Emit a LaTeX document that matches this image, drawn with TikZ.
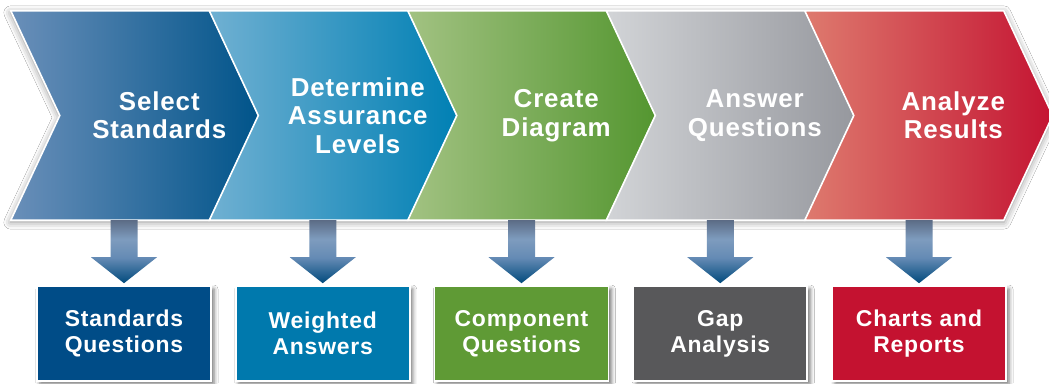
\documentclass[tikz,border=0pt]{standalone}
\usepackage{fontspec}
\setmainfont{Liberation Sans}[LetterSpace=3.5]
\usetikzlibrary{calc,backgrounds,shadows.blur}

% chevron colours (left / right end of the gradient)
\definecolor{selL}{RGB}{106,143,185}
\definecolor{selR}{RGB}{0,84,138}
\definecolor{detL}{RGB}{112,176,210}
\definecolor{detR}{RGB}{0,128,180}
\definecolor{creL}{RGB}{162,194,130}
\definecolor{creR}{RGB}{84,150,48}
\definecolor{ansL}{RGB}{210,212,215}
\definecolor{ansR}{RGB}{150,152,158}
\definecolor{anaL}{RGB}{222,122,110}
\definecolor{anaR}{RGB}{196,20,50}
% result boxes
\definecolor{stdQ}{RGB}{0,76,135}
\definecolor{wgtA}{RGB}{0,121,173}
\definecolor{cmpQ}{RGB}{95,154,53}
\definecolor{gapA}{RGB}{88,88,90}
\definecolor{chRp}{RGB}{196,18,48}
% down arrows
\definecolor{arrTip}{RGB}{0,74,124}
\definecolor{arrHead}{RGB}{100,138,180}
\definecolor{arrMid}{RGB}{126,156,190}
\definecolor{arrTop}{RGB}{92,108,134}

\pgfdeclareverticalshading{arrowshade}{100bp}{color(0bp)=(arrTip); color(25bp)=(arrTip); color(45bp)=(arrHead); color(60bp)=(arrMid); color(75bp)=(arrTop); color(100bp)=(arrTop)}

\begin{document}
\begin{tikzpicture}[x=1bp,y=1bp,
  stage/.style={minimum width=198.5bp,minimum height=209bp,inner sep=0,text=white,align=center,font=\fontsize{26}{28.5}\selectfont\bfseries},
  result/.style={draw=white,line width=1.6bp,minimum width=174bp,minimum height=95bp,inner sep=0,text=white,align=center,font=\fontsize{23}{26}\selectfont\bfseries,blur shadow={shadow xshift=3bp,shadow yshift=-3bp,shadow blur radius=4bp,shadow opacity=55}},
  chevron/.style={draw=white,line width=1.6bp},
  downarrow/.style={draw=none,shading=arrowshade,to path={
    ($(\tikztostart)+(-13.5,0)$) -- ($(\tikztostart)+(13.5,0)$) -- ($(\tikztotarget)+(13.5,26)$) -- ($(\tikztotarget)+(33,26)$)
    -- (\tikztotarget) -- ($(\tikztotarget)+(-33,26)$) -- ($(\tikztotarget)+(-13.5,26)$) -- cycle}}]

\useasboundingbox (0,0) rectangle (1049,-383);

% Stages
\begin{scope}[node distance=198.5bp]
\node[stage] (s1) at (159.25,-115.5) {Select\\Standards};
\node[stage,right of = s1] (s2) {Determine\\Assurance\\Levels};
\node[stage,right of = s2] (s3) {Create\\Diagram};
\node[stage,right of = s3] (s4) {Answer\\Questions};
\node[stage,right of = s4] (s5) {Analyze\\Results};
\end{scope}

% Results
\begin{scope}[node distance=198.75bp]
\node[result,fill=stdQ] (r1) at (124,-333.5) {Standards\\Questions};
\node[result,fill=wgtA,right of = r1] (r2) {Weighted\\Answers};
\node[result,fill=cmpQ,right of = r2] (r3) {Component\\Questions};
\node[result,fill=gapA,right of = r3] (r4) {Gap\\Analysis};
\node[result,fill=chRp,right of = r4] (r5) {Charts and\\Reports};
\end{scope}

% chevron band
\begin{scope}[on background layer]
\fill[white] (0,0) rectangle (1049,-383);
\path[fill=white,blur shadow={shadow xshift=0bp,shadow yshift=-2bp,shadow blur radius=7bp,shadow opacity=45}]
  ($(s1.north west)-(49,0)$) -- ($(s5.north east)-(49,0)$) -- (s5.east) -- ($(s5.south east)-(49,0)$) -- ($(s1.south west)-(49,0)$) -- (s1.west) -- cycle;
\path[chevron,left color=selL,right color=selR] ($(s1.north west)-(49,0)$) -- ($(s1.north east)-(49,0)$) -- (s1.east) -- ($(s1.south east)-(49,0)$) -- ($(s1.south west)-(49,0)$) -- (s1.west) -- cycle;
\path[chevron,left color=detL,right color=detR] ($(s2.north west)-(49,0)$) -- ($(s2.north east)-(49,0)$) -- (s2.east) -- ($(s2.south east)-(49,0)$) -- ($(s2.south west)-(49,0)$) -- (s2.west) -- cycle;
\path[chevron,left color=creL,right color=creR] ($(s3.north west)-(49,0)$) -- ($(s3.north east)-(49,0)$) -- (s3.east) -- ($(s3.south east)-(49,0)$) -- ($(s3.south west)-(49,0)$) -- (s3.west) -- cycle;
\path[chevron,left color=ansL,right color=ansR] ($(s4.north west)-(49,0)$) -- ($(s4.north east)-(49,0)$) -- (s4.east) -- ($(s4.south east)-(49,0)$) -- ($(s4.south west)-(49,0)$) -- (s4.west) -- cycle;
\path[chevron,left color=anaL,right color=anaR] ($(s5.north west)-(49,0)$) -- ($(s5.north east)-(49,0)$) -- (s5.east) -- ($(s5.south east)-(49,0)$) -- ($(s5.south west)-(49,0)$) -- (s5.west) -- cycle;
\end{scope}

% arrows
\path (s1.south -| r1.north) edge[downarrow] ([yshift=2bp]r1.north);
\path (s2.south -| r2.north) edge[downarrow] ([yshift=2bp]r2.north);
\path (s3.south -| r3.north) edge[downarrow] ([yshift=2bp]r3.north);
\path (s4.south -| r4.north) edge[downarrow] ([yshift=2bp]r4.north);
\path (s5.south -| r5.north) edge[downarrow] ([yshift=2bp]r5.north);

\end{tikzpicture}
\end{document}
